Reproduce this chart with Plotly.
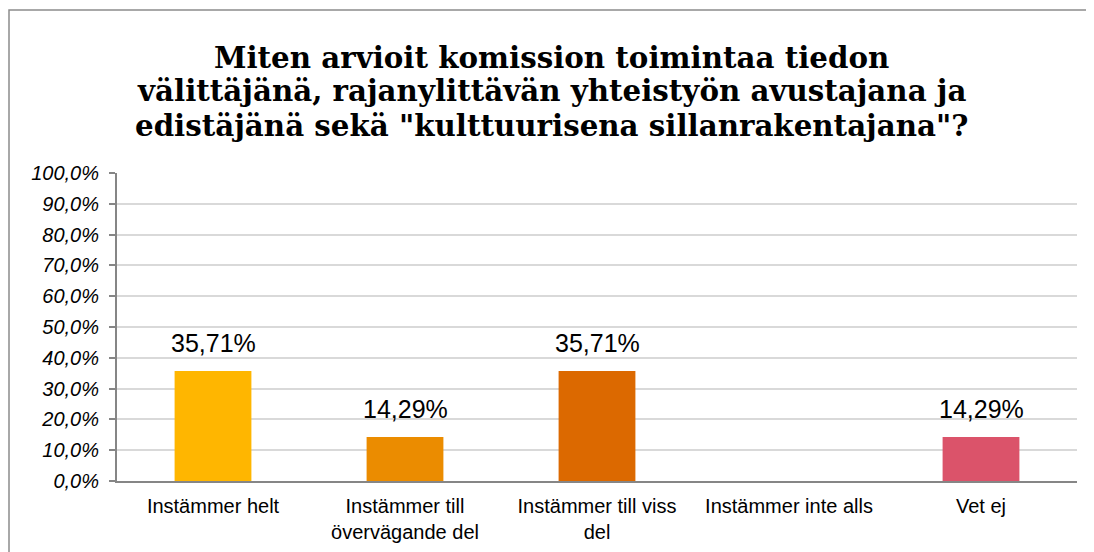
import plotly.graph_objects as go

categories = ["Instämmer helt", "Instämmer till<br>övervägande del", "Instämmer till viss<br>del",
              "Instämmer inte alls", "Vet ej"]
values = [35.71, 14.29, 35.71, 0.0, 14.29]
labels = ["35,71%", "14,29%", "35,71%", "", "14,29%"]
colors = ["#FFB600", "#EB8C00", "#DC6900", "#E0301E", "#DB536A"]
y_ticks = [0, 10, 20, 30, 40, 50, 60, 70, 80, 90, 100]
y_ticktext = ["0,0%", "10,0%", "20,0%", "30,0%", "40,0%", "50,0%", "60,0%", "70,0%", "80,0%", "90,0%", "100,0%"]

title_lines = ["Miten arvioit komission toimintaa tiedon",
               "välittäjänä, rajanylittävän yhteistyön avustajana ja",
               "edistäjänä sekä \"kulttuurisena sillanrakentajana\"?"]

OFF = 8  # page body margin
W, H = 1094 - OFF, 552 - OFF
L, R, T, B = 117 - OFF, 17, 173 - OFF, 71
pw, ph = W - L - R, H - T - B

fig = go.Figure()
fig.add_trace(go.Bar(
    x=categories, y=values, marker=dict(color=colors, line=dict(width=0)),
    hoverinfo="skip",
))

# value labels above bars
for c, v, t in zip(categories, values, labels):
    if t:
        fig.add_annotation(x=c, y=v, text=t, showarrow=False, yanchor="bottom", yshift=12,
                           font=dict(family="Liberation Sans, Arial", size=25, color="#000000"))

# title lines
for i, line in enumerate(title_lines):
    baseline = 67.5 + i * 34 - OFF
    fig.add_annotation(xref="paper", yref="paper", x=0.5 + (W / 2 - L - pw / 2) / pw,
                       y=(H - B - baseline - 9) / ph, yanchor="bottom", xanchor="center",
                       text=line, showarrow=False,
                       font=dict(family="DejaVu Serif", size=29.3, color="#000000", weight="bold"))

fig.update_layout(
    width=W, height=H,
    margin=dict(l=L, r=R, t=T, b=B, autoexpand=False),
    paper_bgcolor="white", plot_bgcolor="white",
    bargap=0.6,
    showlegend=False,
    xaxis=dict(
        type="category", showgrid=False, showline=True, linecolor="#868686", linewidth=2,
        ticks="", tickfont=dict(family="Liberation Sans, Arial", size=20, color="#000000"),
        ticklabelstandoff=6, automargin=False,
    ),
    xaxis2=dict(overlaying="x", anchor="y", side="bottom", range=[-0.5, 4.5],
                tickvals=[-0.5, 0, 0.5, 1, 1.5, 2, 2.5, 3, 3.5, 4, 4.5],
                showticklabels=False, showgrid=False, zeroline=False, showline=False,
                ticks="outside", ticklen=6, tickcolor="#868686", tickwidth=1.5),
    xaxis3=dict(overlaying="x", anchor="y", side="bottom", range=[-0.5, 4.5],
                tickvals=[-0.5, 0, 0.5, 1, 1.5, 2, 2.5, 3, 3.5, 4, 4.5],
                showticklabels=False, showgrid=False, zeroline=False, showline=False,
                ticks="inside", ticklen=5, tickcolor="#868686", tickwidth=1.5),
    yaxis=dict(
        range=[0, 100], tickvals=y_ticks, ticktext=y_ticktext,
        showgrid=True, gridcolor="#D9D9D9", gridwidth=2,
        showline=True, linecolor="#868686", linewidth=2,
        ticks="outside", ticklen=6, tickcolor="#868686", tickwidth=1.5,
        tickfont=dict(family="Liberation Sans, Arial", size=20, color="#000000", style="italic"),
        ticklabelstandoff=6, automargin=False,
        zeroline=False,
    ),
)

# outer chart border (left and top edges visible)
fig.add_shape(type="rect", xref="paper", yref="paper",
              x0=(9 - OFF - L) / pw, x1=(W + 20 - L) / pw,
              y0=-(B + 20) / ph, y1=(H - (10 - OFF) - B) / ph,
              line=dict(color="#8C8C8C", width=1.5), fillcolor="rgba(0,0,0,0)", layer="below")

fig.write_html("out.html")
